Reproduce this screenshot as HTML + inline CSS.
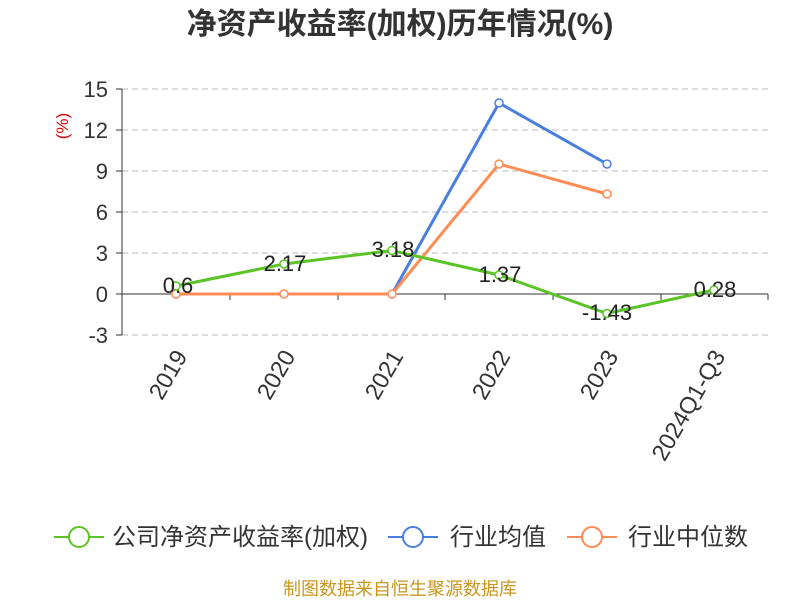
<!DOCTYPE html>
<html><head><meta charset="utf-8"><style>
body{margin:0;background:#fff;}
svg{display:block;font-family:"Liberation Sans","Noto Sans CJK SC",sans-serif;}
</style></head><body>
<svg width="800" height="600" viewBox="0 0 800 600">
<text x="400" y="34" text-anchor="middle" font-size="30" font-weight="bold" fill="#333">净资产收益率(加权)历年情况(%)</text>
<text x="68" y="126" font-size="17" fill="#e00000" transform="rotate(-90 68 126)" text-anchor="middle">(%)</text>
<g stroke="#bbb" stroke-dasharray="6,4" stroke-width="1">
<line x1="122" y1="89" x2="768" y2="89"/><line x1="122" y1="130" x2="768" y2="130"/>
<line x1="122" y1="171" x2="768" y2="171"/><line x1="122" y1="212" x2="768" y2="212"/>
<line x1="122" y1="253" x2="768" y2="253"/><line x1="122" y1="335" x2="768" y2="335"/>
</g>
<line x1="122" y1="89" x2="122" y2="335" stroke="#333"/>
<line x1="122" y1="294" x2="768" y2="294" stroke="#333"/>
<g stroke="#333">
<line x1="116" y1="89" x2="122" y2="89"/><line x1="116" y1="130" x2="122" y2="130"/><line x1="116" y1="171" x2="122" y2="171"/><line x1="116" y1="212" x2="122" y2="212"/><line x1="116" y1="253" x2="122" y2="253"/><line x1="116" y1="294" x2="122" y2="294"/><line x1="116" y1="335" x2="122" y2="335"/>
<line x1="230" y1="294" x2="230" y2="300"/><line x1="338" y1="294" x2="338" y2="300"/><line x1="445" y1="294" x2="445" y2="300"/><line x1="553" y1="294" x2="553" y2="300"/><line x1="661" y1="294" x2="661" y2="300"/><line x1="768" y1="294" x2="768" y2="300"/>
</g>
<g font-size="22" fill="#333" text-anchor="end">
<text x="108" y="97">15</text><text x="108" y="138">12</text><text x="108" y="179">9</text><text x="108" y="220">6</text><text x="108" y="261">3</text><text x="108" y="302">0</text><text x="108" y="343">-3</text>
</g>
<g font-size="23.5" fill="#333" text-anchor="end">
<text transform="translate(188,356) rotate(-60)">2019</text>
<text transform="translate(296,356) rotate(-60)">2020</text>
<text transform="translate(404,356) rotate(-60)">2021</text>
<text transform="translate(511,356) rotate(-60)">2022</text>
<text transform="translate(619,356) rotate(-60)">2023</text>
<text transform="translate(726,356) rotate(-60)">2024Q1-Q3</text>
</g>
<polyline points="176,294 284,294 392,294 499,103 607,164" fill="none" stroke="#4a7fe0" stroke-width="3"/>
<polyline points="176,294 284,294 392,294 499,164 607,194" fill="none" stroke="#ff8c55" stroke-width="3"/>
<polyline points="176,286 284,264 392,250.5 499,275 607,313.5 714,290" fill="none" stroke="#5ac426" stroke-width="3"/>
<g fill="#fff" stroke-width="1.5">
<circle cx="499" cy="103" r="4" stroke="#4a7fe0"/><circle cx="607" cy="164" r="4" stroke="#4a7fe0"/>
<circle cx="176" cy="294" r="4" stroke="#ff8c55"/><circle cx="284" cy="294" r="4" stroke="#ff8c55"/><circle cx="392" cy="294" r="4" stroke="#ff8c55"/><circle cx="499" cy="164" r="4" stroke="#ff8c55"/><circle cx="607" cy="194" r="4" stroke="#ff8c55"/>
<circle cx="176" cy="286" r="4" stroke="#5ac426"/><circle cx="284" cy="264" r="4" stroke="#5ac426"/><circle cx="392" cy="250.5" r="4" stroke="#5ac426"/><circle cx="499" cy="275" r="4" stroke="#5ac426"/><circle cx="607" cy="313.5" r="4" stroke="#5ac426"/><circle cx="714" cy="290" r="4" stroke="#5ac426"/>
</g>
<g font-size="22" fill="#222" text-anchor="middle">
<text x="178" y="293">0.6</text><text x="285" y="271">2.17</text><text x="393" y="257">3.18</text><text x="500" y="282">1.37</text><text x="607" y="320">-1.43</text><text x="715" y="297">0.28</text>
</g>
<g font-size="24" fill="#333">
<line x1="54" y1="537" x2="104" y2="537" stroke="#5ac426" stroke-width="2"/><circle cx="79" cy="537" r="10" fill="#fff" stroke="#5ac426" stroke-width="2"/>
<text x="112" y="545">公司净资产收益率(加权)</text>
<line x1="388" y1="537" x2="438" y2="537" stroke="#4a7fe0" stroke-width="2"/><circle cx="413" cy="537" r="10" fill="#fff" stroke="#4a7fe0" stroke-width="2"/>
<text x="450" y="545">行业均值</text>
<line x1="567" y1="537" x2="617" y2="537" stroke="#ff8c55" stroke-width="2"/><circle cx="592" cy="537" r="10" fill="#fff" stroke="#ff8c55" stroke-width="2"/>
<text x="628" y="545">行业中位数</text>
</g>
<text x="400" y="595" text-anchor="middle" font-size="18" fill="#c8961e">制图数据来自恒生聚源数据库</text>
</svg>
</body></html>
